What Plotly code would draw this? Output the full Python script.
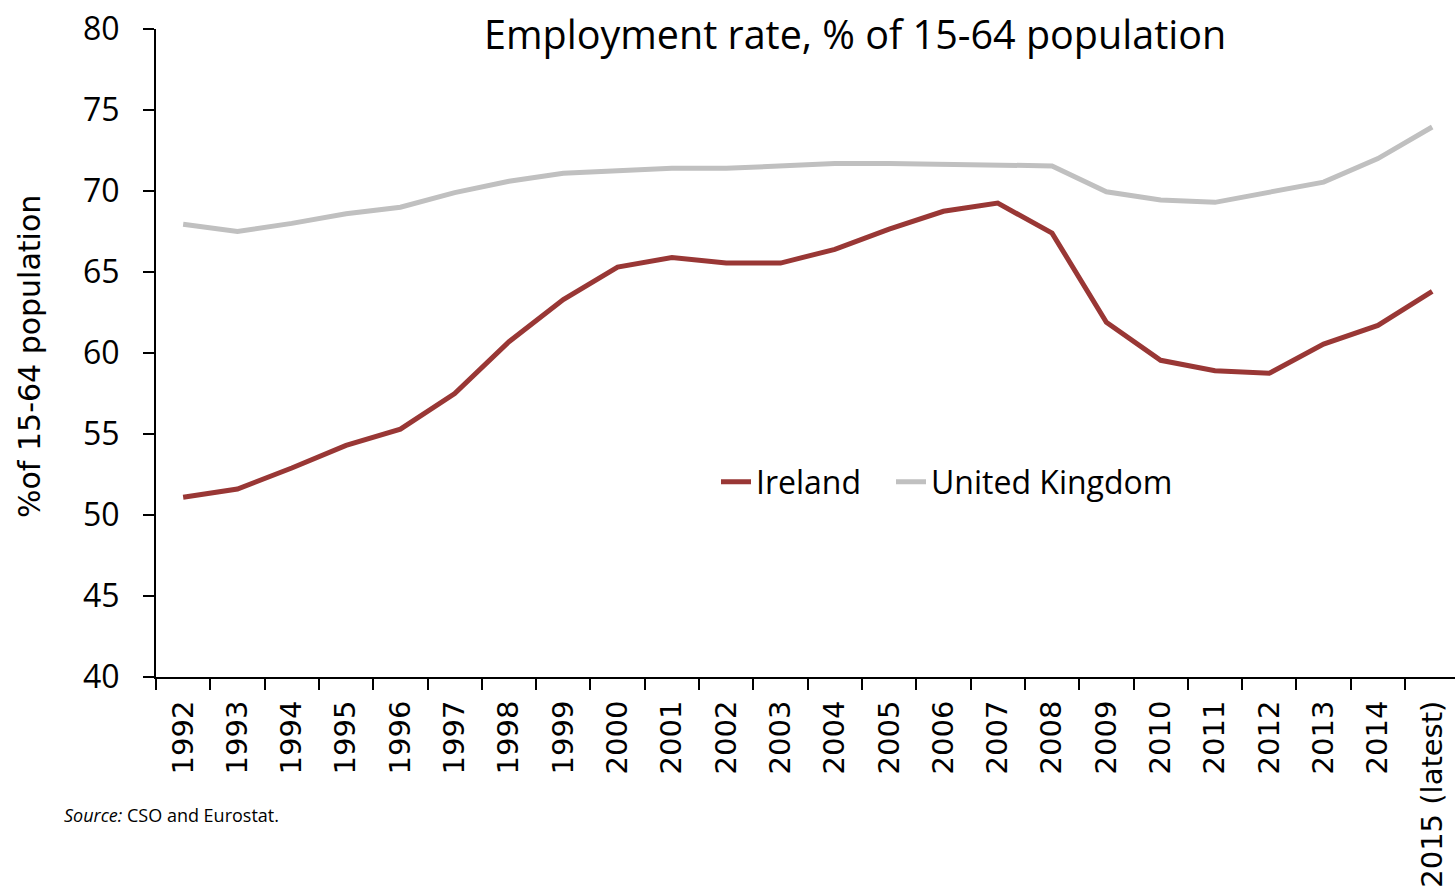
import plotly.graph_objects as go

years = ["1992", "1993", "1994", "1995", "1996", "1997", "1998", "1999", "2000", "2001",
         "2002", "2003", "2004", "2005", "2006", "2007", "2008", "2009", "2010", "2011",
         "2012", "2013", "2014", "2015 (latest)"]

ireland = [51.1, 51.6, 52.9, 54.3, 55.3, 57.5, 60.7, 63.3, 65.3, 65.9,
           65.55, 65.55, 66.4, 67.65, 68.75, 69.25, 67.4, 61.9, 59.55, 58.9,
           58.75, 60.55, 61.7, 63.8]

uk = [67.95, 67.5, 68.0, 68.6, 69.0, 69.9, 70.6, 71.1, 71.25, 71.4,
      71.4, 71.55, 71.7, 71.7, 71.65, 71.55, 71.55, 69.95, 69.45, 69.3,
      69.95, 70.55, 72.0, 73.95]

title_text = "Employment rate, % of 15-64 population"
y_title = "%of 15-64 population"
source_text = "<i>Source:</i> CSO and Eurostat."

fig = go.Figure()
fig.add_trace(go.Scatter(x=years, y=ireland, mode="lines", name="Ireland",
                         line=dict(color="#993735", width=5), legend="legend"))
fig.add_trace(go.Scatter(x=years, y=uk, mode="lines", name="United Kingdom",
                         line=dict(color="#C0C0C0", width=5), legend="legend2"))

W, H = 1455, 894
L, R, T, B = 156, 0, 29, 217
pw, ph = W - L - R, H - T - B

def px(x):
    return (x - L) / pw

def py(y):
    return (H - B - y) / ph

legend_font = dict(family="Open Sans", size=32, color="black")

fig.update_layout(
    width=W, height=H,
    margin=dict(l=L, r=R, t=T, b=B, autoexpand=False),
    paper_bgcolor="white", plot_bgcolor="white",
    showlegend=True,
    legend=dict(orientation="h", x=px(716), y=py(482), xanchor="left", yanchor="middle",
                font=legend_font, bgcolor="rgba(0,0,0,0)", itemwidth=30),
    legend2=dict(orientation="h", x=px(891), y=py(482), xanchor="left", yanchor="middle",
                 font=legend_font, bgcolor="rgba(0,0,0,0)", itemwidth=30),
    xaxis=dict(type="category", range=[-0.5, 23.42], tickson="boundaries",
               ticks="outside", ticklen=11, tickwidth=1.5, tickcolor="black",
               showline=True, linecolor="black", linewidth=2, showgrid=False,
               tickangle=-90, ticklabelstandoff=10,
               tickfont=dict(family="DejaVu Sans", size=29, color="black"),
               fixedrange=True),
    yaxis=dict(range=[40, 80], dtick=5, tick0=40,
               ticks="outside", ticklen=11, tickwidth=1.5, tickcolor="black",
               showline=True, linecolor="black", linewidth=2, showgrid=False,
               zeroline=False, ticklabelstandoff=17,
               tickfont=dict(family="Open Sans", size=32, color="black"),
               fixedrange=True),
    annotations=[
        dict(text=title_text, xref="paper", yref="paper", x=px(855), y=py(34),
             xanchor="center", yanchor="middle", showarrow=False,
             font=dict(family="Open Sans", size=39.5, color="black")),
        dict(text=y_title, xref="paper", yref="paper", x=px(29), y=py(357),
             xanchor="center", yanchor="middle", showarrow=False, textangle=-90,
             font=dict(family="DejaVu Sans", size=30, color="black")),
        dict(text=source_text, xref="paper", yref="paper", x=px(62), y=py(815),
             xanchor="left", yanchor="middle", showarrow=False,
             font=dict(family="Open Sans", size=18, color="black")),
    ],
)

fig.write_html("out.html")
